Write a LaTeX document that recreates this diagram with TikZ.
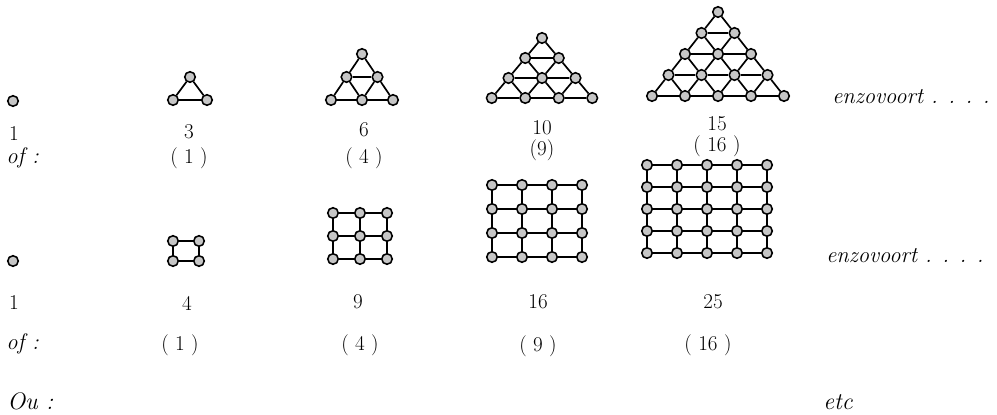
\documentclass[tikz,border=0pt]{standalone}
\usepackage{fontspec}
\usepackage{tikz}

% dots and lines
\tikzset{
  dot/.style={circle, draw, fill=gray!45, line width=1.1pt, minimum size=7.5pt, inner sep=0pt},
  edge/.style={line width=1.2pt},
  hand/.style={font=\fontsize{15}{17}\selectfont, inner sep=0pt},
  handword/.style={font=\fontsize{16}{18}\selectfont\itshape, inner sep=0pt},
  printed/.style={font=\fontsize{17}{20}\selectfont\itshape, inner sep=0pt}
}

% triangular lattice: name, rows, apex x, apex y, dx, dy
\newcommand{\trilattice}[6]{
  \foreach \ii in {1,...,#2} {
    \foreach \jj in {1,...,\ii} {
      \node[dot] (#1-\ii-\jj) at ({#3+(\jj-(\ii+1)/2)*#5}, {#4+(\ii-1)*#6}) {};
    }
  }
  \pgfmathtruncatemacro{\lastrow}{#2-1}
  \foreach \ii in {1,...,\lastrow} {
    \pgfmathtruncatemacro{\nx}{\ii+1}
    \foreach \jj in {1,...,\ii} {
      \pgfmathtruncatemacro{\ny}{\jj+1}
      \draw[edge] (#1-\ii-\jj) -- (#1-\nx-\jj);
      \draw[edge] (#1-\ii-\jj) -- (#1-\nx-\ny);
      \draw[edge] (#1-\nx-\jj) -- (#1-\nx-\ny);
    }
  }
}

% square lattice: name, size, left x, top y, dx, dy
\newcommand{\sqlattice}[6]{
  \foreach \ii in {1,...,#2} {
    \foreach \jj in {1,...,#2} {
      \node[dot] (#1-\ii-\jj) at ({#3+(\jj-1)*#5}, {#4+(\ii-1)*#6}) {};
    }
  }
  \pgfmathtruncatemacro{\lastrow}{#2-1}
  \foreach \ii in {1,...,#2} {
    \foreach \jj in {1,...,\lastrow} {
      \pgfmathtruncatemacro{\ny}{\jj+1}
      \draw[edge] (#1-\ii-\jj) -- (#1-\ii-\ny);
      \draw[edge] (#1-\jj-\ii) -- (#1-\ny-\ii);
    }
  }
}

\begin{document}
\begin{tikzpicture}[x=0.025cm, y=-0.025cm]
    \useasboundingbox (0,0) rectangle (997,414);

    % Triangular numbers
    \node[dot] (t1) at (13,101) {};
    \trilattice{tthree}{2}{190}{77}{34}{23}
    \trilattice{tsix}{3}{362}{54}{31}{23}
    \trilattice{tten}{4}{542}{38}{33.5}{20}
    \trilattice{tfifteen}{5}{718}{12}{33}{21}
    \node[handword, anchor=west] (tmore) at (832,97) {enzovoort . . . .};

    \node[hand] (tn1) at (14,134) {1};
    \node[hand] (tn3) at (189,132) {3};
    \node[hand] (tn6) at (364,130) {6};
    \node[hand] (tn10) at (542,128) {10};
    \node[hand] (tn15) at (717,124) {15};

    \node[handword, anchor=west] (tof) at (6,158) {of :};
    \node[hand] (tq3) at (189,158) {( 1 )};
    \node[hand] (tq6) at (364,158) {( 4 )};
    \node[hand] (tq10) at (542,150) {(9)};
    \node[hand] (tq15) at (717,146) {( 16 )};

    % Square numbers
    \node[dot] (s1) at (13,261) {};
    \sqlattice{sfour}{2}{173}{241}{26}{20}
    \sqlattice{snine}{3}{333}{213}{27}{23}
    \sqlattice{ssixteen}{4}{492}{185}{30}{24}
    \sqlattice{stwentyfive}{5}{647}{165}{30}{22}
    \node[handword, anchor=west] (smore) at (826,256) {enzovoort . . . .};

    \node[hand] (sn1) at (14,303) {1};
    \node[hand] (sn4) at (187,303) {4};
    \node[hand] (sn9) at (358,302) {9};
    \node[hand] (sn16) at (538,302) {16};
    \node[hand] (sn25) at (713,302) {25};

    \node[handword, anchor=west] (sof) at (6,344) {of :};
    \node[hand] (sq4) at (180,345) {( 1 )};
    \node[hand] (sq9) at (360,345) {( 4 )};
    \node[hand] (sq16) at (538,346) {( 9 )};
    \node[hand] (sq25) at (708,345) {( 16 )};

    \node[printed, anchor=west] (ou) at (7,401) {Ou :};
    \node[printed, anchor=west] (etc) at (823,402) {etc};
\end{tikzpicture}
\end{document}
